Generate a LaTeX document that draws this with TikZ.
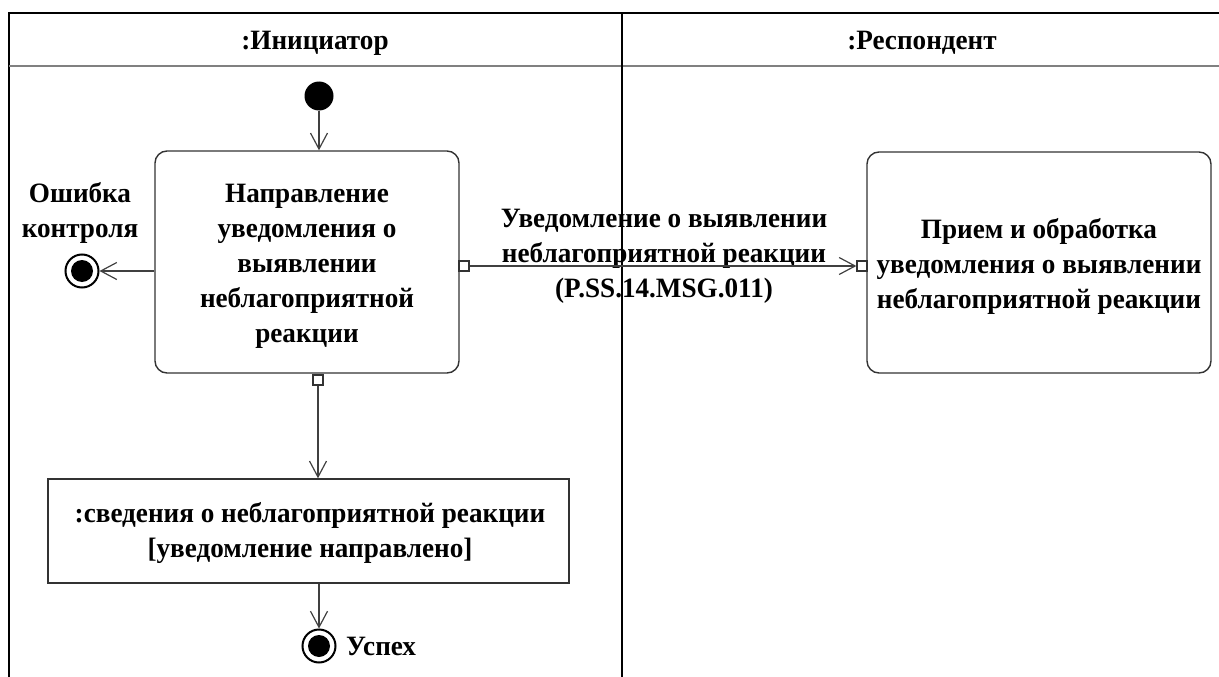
\documentclass[tikz,border=0pt]{standalone}
\usepackage{fontspec}
\setmainfont[FakeStretch=0.97]{Liberation Serif}
\usetikzlibrary{arrows.meta}

\tikzset{
  txt/.style={font=\bfseries\fontsize{28}{35}\selectfont, align=center, inner sep=0pt},
  act/.style={draw=black!80, line width=1.4pt, rounded corners=12pt, inner sep=0pt},
  objnode/.style={draw=black!80, line width=1.4pt, inner sep=0pt},
  pinbox/.style={draw=black!80, fill=white, line width=1.2pt, minimum size=10pt, inner sep=0pt},
  startnode/.style={circle, fill=black, minimum size=29pt, inner sep=0pt},
  finalnode/.style={circle, draw=black, line width=2pt, minimum size=33pt, inner sep=0pt,
    path picture={\fill[black] (path picture bounding box.center) circle (11pt);}},
  flow/.style={draw=black!75, line width=1.3pt, -{Straight Barb[length=16pt, width=17pt, line width=1.2pt]}},
  lanefr/.style={draw=black, line width=2pt},
}

\begin{document}
\begin{tikzpicture}[x=1pt, y=-1pt]
\useasboundingbox (0,0) rectangle (1219,677);

% swimlane frame
\draw[lanefr] (9,677) -- (9,13) -- (1219,13);
\draw[draw=black!50, line width=2pt] (9,66) -- (1219,66);
\draw[draw=black, line width=1.6pt] (622,13) -- (622,677);
\node[txt] (laneA) at (315,43) {:Инициатор};
\node[txt] (laneB) at (922,43) {:Респондент};

% initiator activity
\node[startnode] (init) at (319,96) {};
\node[act, minimum width=304pt, minimum height=222pt] (a1) at (307,262) {};
\node[txt] (a1t) at (307,266) {Направление\\уведомления о\\выявлении\\неблагоприятной\\реакции};
\node[pinbox] (p1) at (464,266) {};
\node[pinbox] (p3) at (318,380) {};

% error end
\node[finalnode] (fin1) at (82,271) {};
\node[txt] (fin1t) at (80,213) {Ошибка\\контроля};

% responder activity
\node[act, minimum width=344pt, minimum height=221pt] (a2) at (1039,262.5) {};
\node[txt] (a2t) at (1039,266) {Прием и обработка\\уведомления о выявлении\\неблагоприятной реакции};
\node[pinbox] (p2) at (862,266) {};

% message label
\node[txt] (msg) at (664,256) {Уведомление о выявлении\\неблагоприятной реакции\\(P.SS.14.MSG.011)};

% object node
\node[objnode, minimum width=521pt, minimum height=104pt] (obj) at (308.5,531) {};
\node[txt] (objt) at (310,533) {:сведения о неблагоприятной реакции\\{[}уведомление направлено{]}};

% success end
\node[finalnode] (fin2) at (319,646) {};
\node[txt, anchor=west] (fin2t) at (346,646) {Успех};

% flows
\draw[flow] (init) -- (init |- a1.north);
\draw[flow] (a1.west |- fin1) -- (fin1);
\draw[flow] (p1.east) -- (p2.west);
\draw[flow] (p3.south) -- (p3.south |- obj.north);
\draw[flow] (obj.south -| fin2) -- (fin2);
\end{tikzpicture}
\end{document}
